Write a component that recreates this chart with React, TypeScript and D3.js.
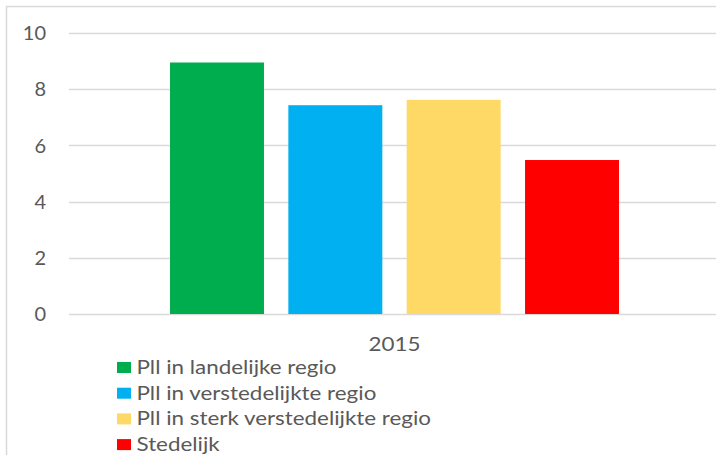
import React from "react";
import * as d3 from "d3";

const categories = ["2015"];
const seriesNames = [
  "Pll in landelijke regio",
  "Pll in verstedelijkte regio",
  "Pll in sterk verstedelijkte regio",
  "Stedelijk",
];
const seriesValues = [8.95, 7.43, 7.62, 5.48];
const seriesColors = ["#00AD4E", "#00B0F0", "#FFD966", "#FF0000"];
const yTicks = [0, 2, 4, 6, 8, 10];

const W = 716;
const H = 455;
const FONT = "Lato, 'Open Sans', sans-serif";
const TEXT = "#595959";
const FS = 20;
const STRETCH = 1.12;

export default function App() {
  const plotLeft = 69;
  const plotRight = 720;
  const y = d3.scaleLinear().domain([0, 10]).range([314, 33]);
  const x0 = d3
    .scaleBand<string>()
    .domain(categories)
    .range([plotLeft, plotRight])
    .paddingInner(0)
    .paddingOuter(0.225);
  const x1 = d3
    .scaleBand<string>()
    .domain(seriesNames)
    .range([0, x0.bandwidth()])
    .paddingInner(0.206)
    .paddingOuter(0);

  return (
    <svg
      width={W}
      height={H}
      style={{ position: "absolute", left: 0, top: 0, background: "#fff" }}
      fontFamily={FONT}
    >
      <rect x={6.5} y={6.5} width={W + 20} height={H + 20} fill="#fff" stroke="#d9d9d9" strokeWidth={1.5} />
      {yTicks.map((t) => (
        <g key={t}>
          <line x1={plotLeft} x2={W} y1={Math.round(y(t)) + 0.5} y2={Math.round(y(t)) + 0.5} stroke="#d9d9d9" strokeWidth={1.5} />
          <text x={46} y={y(t)} dy="0.36em" textAnchor="end" fontSize={FS} fill={TEXT}>
            {t}
          </text>
        </g>
      ))}
      {categories.map((c) => (
        <g key={c} transform={`translate(${x0(c)},0)`}>
          {seriesNames.map((s, i) => (
            <rect
              key={s}
              x={x1(s)}
              y={y(seriesValues[i])}
              width={x1.bandwidth()}
              height={y(0) - y(seriesValues[i])}
              fill={seriesColors[i]}
            />
          ))}
          <text
            transform={`translate(${x0.bandwidth() / 2},351) scale(${STRETCH},1)`}
            textAnchor="middle"
            fontSize={FS}
            fill={TEXT}
          >
            {c}
          </text>
        </g>
      ))}
      {seriesNames.map((s, i) => (
        <g key={s} transform={`translate(117,${374 + i * 25.7})`}>
          <rect x={0} y={-12} width={14} height={11} fill={seriesColors[i]} />
          <text transform={`translate(19.5,0) scale(${STRETCH},1)`} fontSize={FS} fill={TEXT}>
            {s}
          </text>
        </g>
      ))}
    </svg>
  );
}
